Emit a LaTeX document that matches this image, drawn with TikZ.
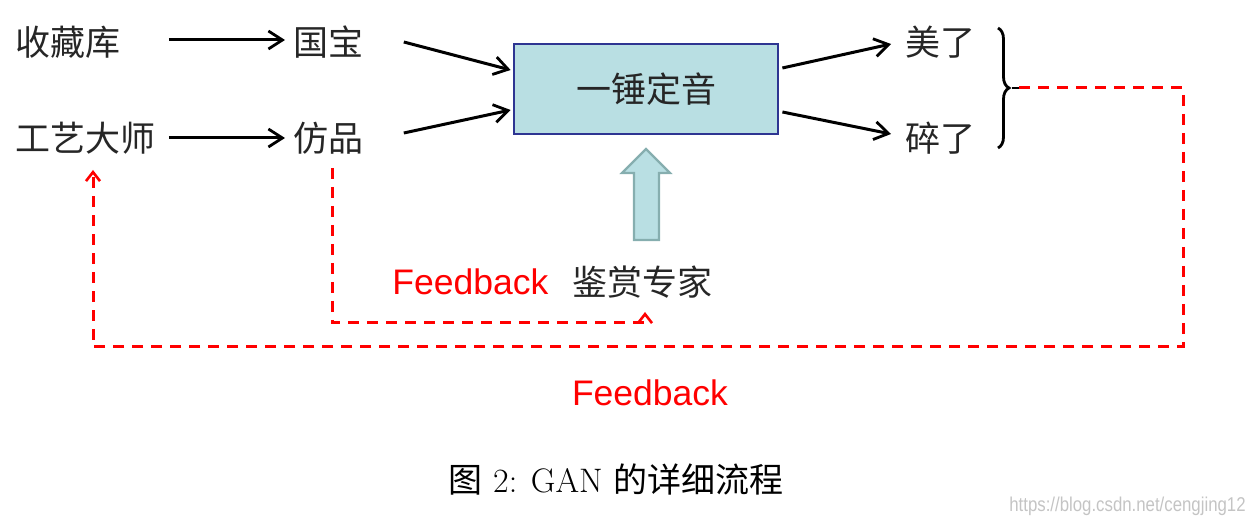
\documentclass[tikz,border=0pt]{standalone}
\usepackage{fontspec}
\newfontfamily\cjk{Noto Sans CJK SC}
\newfontfamily\arial{Liberation Sans}
\usetikzlibrary{arrows.meta,decorations.pathreplacing,calc}
\definecolor{boxfill}{HTML}{B9DFE3}
\definecolor{boxline}{HTML}{2E3592}
\definecolor{fatline}{HTML}{86AEAF}
\definecolor{fbred}{HTML}{FF0000}
\definecolor{wmgray}{HTML}{C4C4C4}
\tikzset{
  lbl/.style={inner sep=0pt, font=\cjk\fontsize{17.5}{20}\selectfont, text=black!85},
  arr/.style={line width=1.5pt, -{Straight Barb[length=7pt,width=9pt,line width=1.4pt]}},
  fbl/.style={draw=fbred, line width=1.5pt, dash pattern=on 5.5pt off 4pt, -{Straight Barb[length=4.5pt,width=7pt,line width=1.3pt]}},
  fbtxt/.style={inner sep=0pt, text=fbred, font=\arial\fontsize{17.75}{20}\selectfont},
  box/.style={draw=boxline, fill=boxfill, line width=1.4pt, minimum width=132pt, minimum height=45pt, inner sep=0pt, font=\cjk\fontsize{17.5}{20}\selectfont, text=black!85}
}
\begin{document}
\begin{tikzpicture}[x=0.5pt,y=-0.5pt]
\useasboundingbox (0,0) rectangle (1252,522);
% left labels
\node[lbl,anchor=west] (sc) at (15,42) {收藏库};
\node[lbl,anchor=west] (gy) at (15,138) {工艺大师};
\node[lbl,anchor=west] (gb) at (293,42) {国宝};
\node[lbl,anchor=west] (fp) at (293,138) {仿品};
% central box
\node[box] (yc) at (646,89) {一锤定音};
% outputs
\node[lbl,anchor=west] (ml) at (905,42) {美了};
\node[lbl,anchor=west] (sl) at (905,138) {碎了};
% arrows
\draw[arr] ($(gy.east)+(13,0)$) -- ($(fp.west)+(-8,0)$);
\draw[arr] (gy.east |- sc.east) ++(13,-2) -- ($(gb.west)+(-8,-2)$);
\draw[arr] ($(gb.east)+(40,0)$) -- ($(yc.west)+(-2,-19)$);
\draw[arr] ($(fp.east)+(40,-5)$) -- ($(yc.west)+(-2,21)$);
\draw[arr] ($(yc.east)+(3,-21)$) -- ($(ml.west)+(-14,2)$);
\draw[arr] ($(yc.east)+(3,23)$) -- ($(sl.west)+(-14,-4)$);
% brace
\draw[line width=1.4pt, decorate, decoration={brace, amplitude=5.5pt, aspect=0.5}] (998,28) -- (998,148);
\coordinate (bt) at (1012,88);
% fat arrow
\draw[draw=fatline, fill=boxfill, line width=1.1pt]
  (646,149) -- (670,173) -- (659,173) -- (659,240) -- (634,240) -- (634,173) -- (622,173) -- cycle;
% expert + feedback
\node[fbtxt,anchor=west] (fb1) at (392,282) {Feedback};
\node[lbl,anchor=west] (jd) at (572,282) {鉴赏专家};
\node[fbtxt] (fb2) at (650,393) {Feedback};
% dashed feedback lines
\coordinate (c1) at (332,323);
\coordinate (t1) at (645,312);
\draw[fbl] (c1 |- 0,168) -- (c1) -| (t1);
\coordinate (r1) at (1183,88);
\coordinate (r2) at (1183,347);
\coordinate (l1) at (93,347);
\draw[fbl] (1019,88) -- (r1) -- (r2) -- (l1) -- (l1 |- 0,170);
\draw[line width=1.4pt] (bt) -- (1019,88);
% caption
\node[inner sep=0pt, font=\fontsize{17}{20}\selectfont] (cap) at (616,480) {{\cjk 图} 2: GAN {\cjk 的详细流程}};
\node[inner sep=0pt, anchor=east, text=wmgray, font=\arial\fontsize{10}{12}\selectfont, xscale=0.84] (wm) at (1246,506) {https://blog.csdn.net/cengjing12};
\end{tikzpicture}
\end{document}
